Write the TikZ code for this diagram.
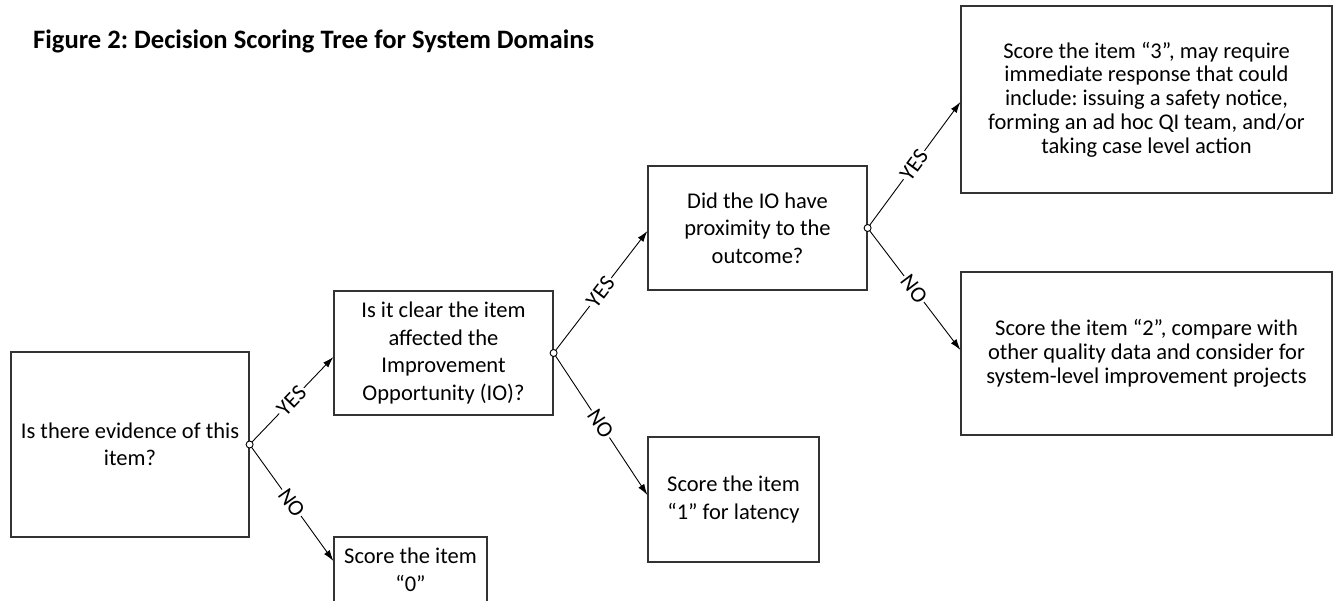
\documentclass[tikz,border=0pt]{standalone}
\usepackage{fontspec}
\setmainfont{Carlito}
\usetikzlibrary{arrows.meta}
\frenchspacing
\tikzset{
  box/.style={draw=black!80, line width=1.2pt, align=center, inner sep=0pt,
    font=\fontsize{22.5}{27.5}\selectfont, anchor=center},
  tightbox/.style={box, font=\fontsize{22.5}{23.8}\selectfont},
  conn/.style={line width=0.9pt, -{Latex[length=11pt,width=7pt]}},
  lbl/.style={fill=white, inner sep=1.5pt, sloped, midway, font=\fontsize{22.5}{27}\selectfont},
  dot/.style={circle, draw, line width=0.9pt, fill=white, inner sep=0pt, minimum size=7pt},
}
\begin{document}
\begin{tikzpicture}[x=1pt,y=-1pt]
\useasboundingbox (0,0) rectangle (1337,601);
\clip (0,0) rectangle (1337,601);
\fill[white] (0,0) rectangle (1337,601);

\node[anchor=base west, font=\fontsize{26.6}{30}\selectfont\bfseries, inner sep=0pt] (title) at (33,49) {Figure 2: Decision Scoring Tree for System Domains};

\node[box, minimum width=238pt, minimum height=185pt] (A) at (130,444.5) {Is there evidence of this\\item?};
\node[box, minimum width=219pt, minimum height=124pt] (B) at (443.5,353) {Is it clear the item\\affected the\\Improvement\\Opportunity (IO)?};
\node[box, minimum width=219pt, minimum height=124pt] (C) at (757.5,228) {Did the IO have\\proximity to the\\outcome?};
\node[tightbox, minimum width=371pt, minimum height=187pt] (D) at (1146.5,99.5) {Score the item “3”, may require\\immediate response that could\\include: issuing a safety notice,\\forming an ad hoc QI team, and/or\\taking case level action};
\node[tightbox, minimum width=371pt, minimum height=163pt] (E) at (1146.5,353.5) {Score the item “2”, compare with\\other quality data and consider for\\system-level improvement projects};
\node[box, minimum width=171pt, minimum height=125pt] (F) at (733.5,499.5) {Score the item\\“1” for latency};
\node[box, minimum width=153pt, minimum height=66pt] (G) at (410.5,570) {Score the item\\“0”};

\coordinate (dA) at (A.east);
\coordinate (dB) at (B.east);
\coordinate (dC) at (C.east);

\draw[conn] (dA) -- node[lbl]{YES} ([yshift=-4pt]B.west);
\draw[conn] (dA) -- node[lbl]{NO} ([yshift=9pt]G.west);
\draw[conn] (dB) -- node[lbl]{YES} ([yshift=-3pt]C.west);
\draw[conn] (dB) -- node[lbl]{NO} ([yshift=4.5pt]F.west);
\draw[conn] (dC) -- node[lbl]{YES} ([yshift=-2.5pt]D.west);
\draw[conn] (dC) -- node[lbl]{NO} ([yshift=3.5pt]E.west);

\node[dot] (cA) at (dA) {};
\node[dot] (cB) at (dB) {};
\node[dot] (cC) at (dC) {};
\end{tikzpicture}
\end{document}
